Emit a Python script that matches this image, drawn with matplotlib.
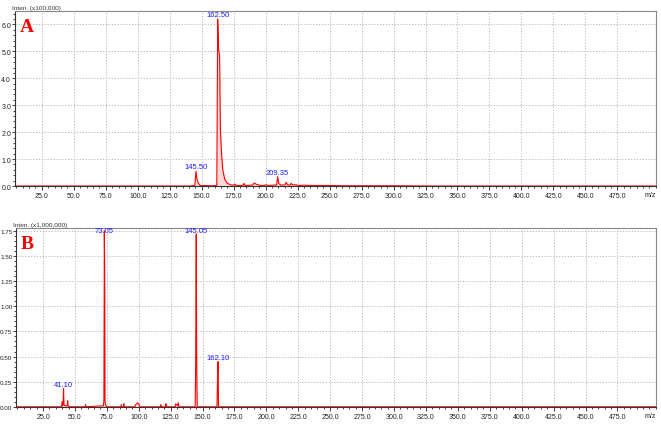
import matplotlib.pyplot as plt
from matplotlib.ticker import MultipleLocator

# panel A profile (m/z, intensity x100,000)
mz_a = [4, 140, 144.6, 145.5, 146.3, 147.2, 148.5, 150, 152, 155, 158, 161.8,
        162.5, 163.2, 164.0, 164.6, 165.5, 166.5, 168, 170, 173, 175, 176, 177,
        180, 182.5, 183, 184, 188, 190, 191, 193, 196, 199, 200, 202, 205, 208.6,
        209.35, 210.2, 212, 213, 215, 216, 217, 219, 220, 221, 223, 226, 230,
        236, 240, 250, 260, 280, 300, 330, 505]
int_a = [0, 0, 0.02, 0.55, 0.25, 0.12, 0.03, 0.01, 0.02, 0.01, 0.01, 0.02,
         6.2, 5.1, 4.8, 2.1, 1.2, 0.6, 0.25, 0.1, 0.04, 0.03, 0.07, 0.02,
         0.02, 0.03, 0.1, 0.02, 0.03, 0.04, 0.11, 0.06, 0.02, 0.02, 0.05, 0.02, 0.03, 0.04,
         0.35, 0.1, 0.03, 0.04, 0.03, 0.14, 0.05, 0.03, 0.1, 0.04, 0.05, 0.02, 0.03,
         0.02, 0.02, 0.02, 0.01, 0.01, 0.01, 0.0, 0]
labels_a = [(145.50, 0.55, "145.50"), (162.50, 6.2, "162.50"), (209.35, 0.35, "209.35")]

# panel B profile (m/z, intensity x1,000,000)
mz_b = [4, 39.5, 40, 40.5, 40.8, 41.1, 41.4, 42, 44, 44.3, 44.6, 46, 58, 58.3, 58.6,
        72.3, 72.7, 72.95, 73.05, 73.3, 73.6, 74, 75, 86, 86.4, 86.8, 88, 88.3, 88.6,
        97, 97.5, 98.5, 99, 100, 100.5, 101, 117, 117.3, 117.6, 121, 121.3, 121.6,
        128.5, 129, 130.5, 131, 131.5, 144.2, 144.6, 145.05, 145.4, 145.8, 161.3, 161.7,
        162.1, 162.5, 175, 505]
int_b = [0, 0, 0.05, 0.01, 0.06, 0.18, 0.03, 0.01, 0.01, 0.06, 0.01, 0.0, 0.0, 0.02, 0.0,
         0.01, 0.06, 1.15, 1.75, 1.4, 0.06, 0.02, 0.0, 0.0, 0.02, 0.0, 0.0, 0.03, 0.0,
         0.0, 0.02, 0.03, 0.04, 0.03, 0.01, 0.0, 0.0, 0.02, 0.0, 0.0, 0.03, 0.0,
         0.0, 0.03, 0.01, 0.04, 0.0, 0.0, 0.4, 1.72, 0.45, 0.0, 0.0, 0.28,
         0.45, 0.0, 0.0, 0]
labels_b = [(41.10, 0.18, "41.10"), (73.05, 1.75, "73.05"), (145.05, 1.72, "145.05"), (162.10, 0.45, "162.10")]

xticks = [25.0, 50.0, 75.0, 100.0, 125.0, 150.0, 175.0, 200.0, 225.0, 250.0, 275.0,
          300.0, 325.0, 350.0, 375.0, 400.0, 425.0, 450.0, 475.0]

plt.rcParams['font.family'] = ['Liberation Sans', 'DejaVu Sans']

fig = plt.figure(figsize=(6.61, 4.27), dpi=100)
axA = fig.add_axes([0.0227, 0.562, 0.9693, 0.41])
axB = fig.add_axes([0.0245, 0.045, 0.9675, 0.419])


def style(ax, ymax, ystep, yminor, yfmt, unit, letter, ysize):
    ax.set_xlim(4, 505)
    ax.set_ylim(0, ymax)
    ax.set_xticks(xticks)
    ax.set_xticklabels(["%.1f" % t for t in xticks])
    ax.xaxis.set_minor_locator(MultipleLocator(5))
    ax.yaxis.set_major_locator(MultipleLocator(ystep))
    ax.yaxis.set_minor_locator(MultipleLocator(yminor))
    ax.yaxis.set_major_formatter(plt.FormatStrFormatter(yfmt))
    ax.tick_params(axis="x", labelsize=5.0, length=3, width=0.6, pad=1.5, colors="#222222")
    ax.tick_params(axis="y", labelsize=ysize, length=2.2, width=0.6, pad=0.6, colors="#222222")
    ax.tick_params(which="minor", length=1.5, width=0.5)
    ax.grid(True, which="major", color="#b0b0b0", linestyle=(0, (1.5, 2)), linewidth=0.6)
    for s in ["top", "right"]:
        ax.spines[s].set_color("#888888")
        ax.spines[s].set_linewidth(0.8)
    for s in ["left", "bottom"]:
        ax.spines[s].set_color("#333333")
        ax.spines[s].set_linewidth(0.8)
    ax.text(-0.005, 1.005, unit, transform=ax.transAxes, fontsize=4.6, color="#333333",
            ha="left", va="bottom")
    ax.text(1.0, -0.03, "m/z", transform=ax.transAxes, fontsize=5.0, color="#222222",
            ha="right", va="top")
    ax.text(0.007, 0.96, letter, transform=ax.transAxes, fontsize=14, color="red",
            fontweight="bold", family="Liberation Serif", ha="left", va="top")


axA.plot(mz_a, int_a, color="red", linewidth=0.8)
axA.fill_between(mz_a, int_a, color="#ff8080", alpha=0.3, linewidth=0)
for x, y, t in labels_a:
    axA.text(x, y + 0.03, t, fontsize=5.5, color="#1a1aff", ha="center", va="bottom")
style(axA, 6.5, 1.0, 0.2, "%.1f", "Inten. (x100,000)", "A", 5.0)

axB.plot(mz_b, int_b, color="red", linewidth=0.8)
axB.fill_between(mz_b, int_b, color="#ff8080", alpha=0.3, linewidth=0)
for x, y, t in labels_b:
    axB.text(x, min(y + 0.01, 1.72), t, fontsize=5.5, color="#1a1aff", ha="center", va="bottom")
style(axB, 1.78, 0.25, 0.05, "%.2f", "Inten. (x1,000,000)", "B", 4.5)

fig.savefig("out.png", dpi=100)
